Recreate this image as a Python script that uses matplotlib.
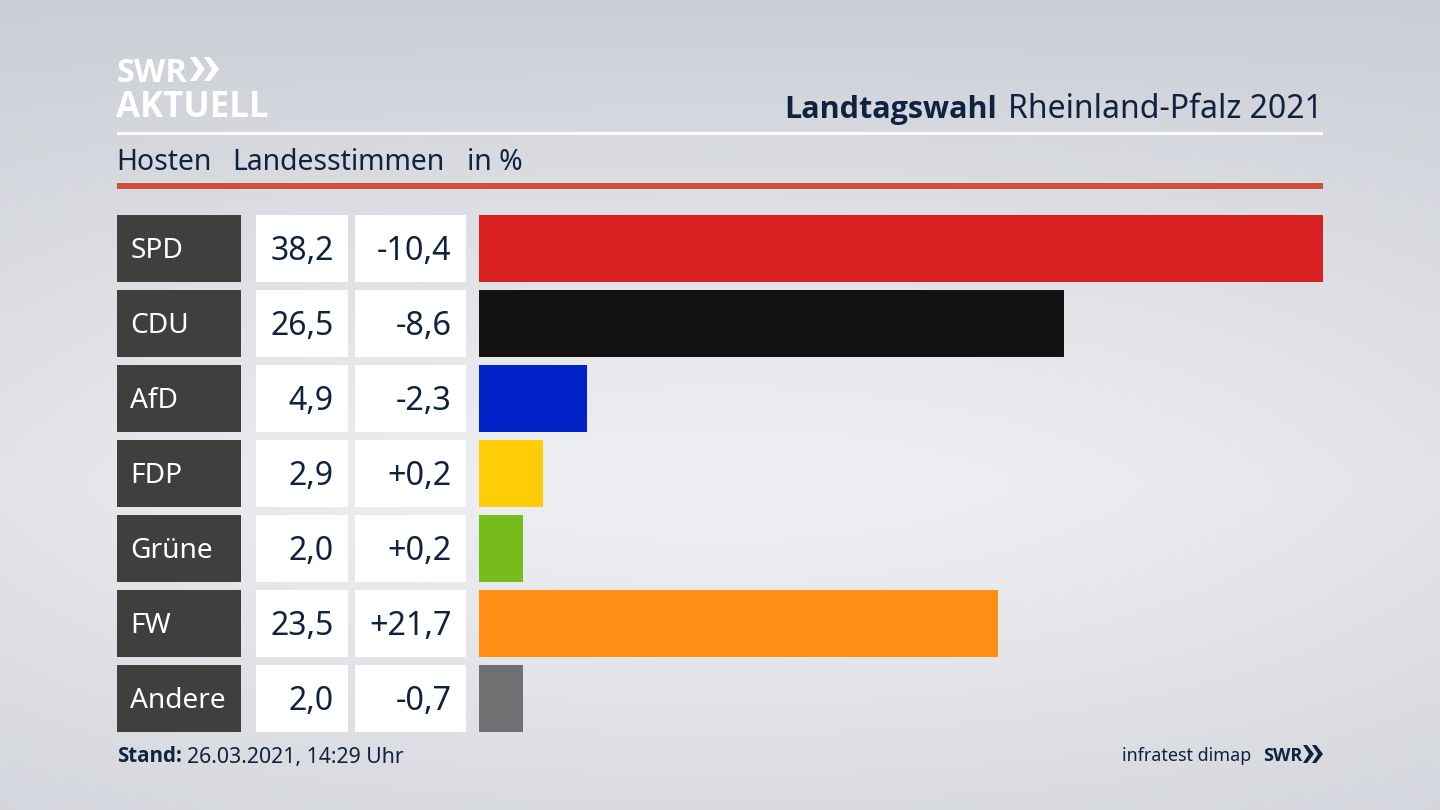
import numpy as np
import matplotlib
matplotlib.use('Agg')
import matplotlib.pyplot as plt
from matplotlib.patches import Rectangle, Polygon

parties = ['SPD', 'CDU', 'AfD', 'FDP', 'Grüne', 'FW', 'Andere']
values = [38.2, 26.5, 4.9, 2.9, 2.0, 23.5, 2.0]
value_labels = ['38,2', '26,5', '4,9', '2,9', '2,0', '23,5', '2,0']
diff_labels = ['-10,4', '-8,6', '-2,3', '+0,2', '+0,2', '+21,7', '-0,7']
colors = ['#d7201f', '#121212', '#0021c8', '#ffcd07', '#78bc1b', '#ff8f14', '#6f7072']

navy = '#0f2240'
plt.rcParams['font.family'] = ['Noto Sans', 'DejaVu Sans']
bold_font = 'Open Sans'

fig = plt.figure(figsize=(14.4, 8.1), dpi=100)

# background with soft light band in the middle
bg = fig.add_axes([0, 0, 1, 1])
bg.axis('off')
yy, xx = np.mgrid[0:1:81j, 0:1:144j]
shade = 1 - np.clip(np.abs(yy - 0.6) / 0.6, 0, 1) ** 1.3
edge = np.abs(xx - 0.5) * 2
shade = shade * (1 - 0.35 * edge ** 2)
img = np.zeros(shade.shape + (3,))
low = np.array([0xcb, 0xce, 0xd5]) / 255
high = np.array([0xee, 0xef, 0xf2]) / 255
for i in range(3):
    img[..., i] = low[i] + (high[i] - low[i]) * shade
bg.imshow(img, extent=[0, 1440, 810, 0], aspect='auto', interpolation='bicubic')
bg.set_xlim(0, 1440)
bg.set_ylim(810, 0)

# pixel canvas for frame, rules and text
ax = fig.add_axes([0, 0, 1, 1])
ax.set_xlim(0, 1440)
ax.set_ylim(810, 0)
ax.axis('off')
ax.patch.set_alpha(0)

# logo
ax.text(117, 73, 'SWR', fontsize=23.5, fontweight='bold', color='white', va='center', ha='left', family=bold_font)
ax.text(116, 108, 'AKTUELL', fontsize=25, fontweight='bold', color='white', va='center', ha='left', family=bold_font)
for x0 in (190, 204):
    ax.add_patch(Polygon([(x0, 57), (x0 + 6, 57), (x0 + 15, 69), (x0 + 6, 81), (x0, 81), (x0 + 8, 69)], color='white', lw=0))

# title
ax.text(1323, 110, 'Rheinland-Pfalz 2021', fontsize=23, color=navy, va='center', ha='right')
ax.text(997, 110, 'Landtagswahl', fontsize=22, fontweight='bold', color=navy, va='center', ha='right', family=bold_font)

ax.add_patch(Rectangle((117, 132), 1206, 3, color='white', lw=0))
ax.text(116, 163, 'Hosten', fontsize=20.4, color=navy, va='center')
ax.text(232, 163, 'Landesstimmen', fontsize=20.4, color=navy, va='center')
ax.text(467, 163, 'in %', fontsize=20.4, color=navy, va='center')
ax.add_patch(Rectangle((117, 183), 1206, 6, color='#cf4f3c', lw=0))

# rows
tops = [215, 290, 365, 440, 515, 590, 665]
row_h = 66.5
bar_left = 479
scale = (1323 - 479) / 38.2
for i, p in enumerate(parties):
    top = tops[i]
    mid = top + row_h / 2
    ax.add_patch(Rectangle((117, top), 124, row_h, color='#3f403e', lw=0))
    ax.add_patch(Rectangle((256, top), 92, row_h, color='white', lw=0))
    ax.add_patch(Rectangle((355, top), 111, row_h, color='white', lw=0))
    ax.add_patch(Rectangle((bar_left, top), values[i] * scale, row_h, color=colors[i], lw=0))
    ax.text(130.5, mid + 3, p, fontsize=20.2, color='white', va='center')
    ax.text(333.5, mid + 3.5, value_labels[i], fontsize=23, color=navy, va='center', ha='right')
    ax.text(451.5, mid + 3.5, diff_labels[i], fontsize=23.3, color=navy, va='center', ha='right')

# footer
ax.text(117, 756, 'Stand:', fontsize=14.8, fontweight='bold', color=navy, va='center', family=bold_font)
ax.text(187, 757, '26.03.2021, 14:29 Uhr', fontsize=15.3, color=navy, va='center')
ax.text(1251, 756, 'infratest dimap', fontsize=12.9, color=navy, va='center', ha='right')
ax.text(1263, 756, 'SWR', fontsize=13, fontweight='bold', color=navy, va='center', family=bold_font)
for x0 in (1303, 1312):
    ax.add_patch(Polygon([(x0, 745), (x0 + 4, 745), (x0 + 11, 754), (x0 + 4, 763), (x0, 763), (x0 + 6, 754)], color=navy, lw=0))

fig.savefig('out.png', dpi=100)
